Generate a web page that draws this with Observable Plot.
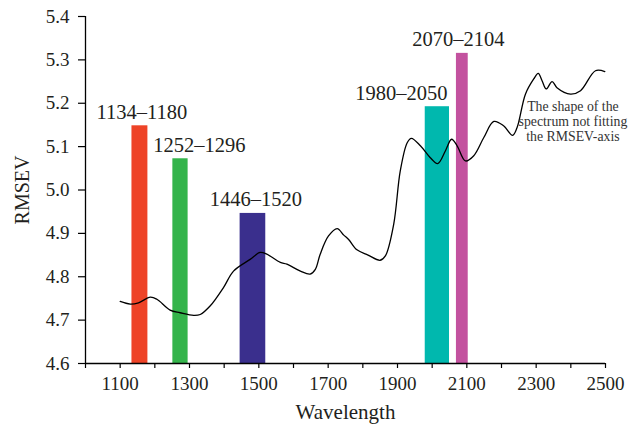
<!DOCTYPE html>
<html>
<head>
<meta charset="utf-8">
<script src="https://cdn.jsdelivr.net/npm/d3@7"></script>
<script src="https://cdn.jsdelivr.net/npm/@observablehq/plot@0.6"></script>
<style>
  html, body { margin: 0; padding: 0; background: #fff; }
  #chart svg { display: block; }
</style>
</head>
<body>
<div id="chart"></div>
<script>
// Spectrum curve (wavelength vs RMSEV)
const wavelength = [1100,1129,1153,1187,1206,1244,1273,1312,1331,1360,1398,1427,1475,1504,1523,1562,1581,1620,1648,1663,1677,1701,1726,1745,1759,1783,1815,1850,1865,1889,1908,1928,1940,1966,1994,2016,2038,2056,2072,2096,2120,2149,2178,2206,2232,2245,2269,2293,2306,2317,2329,2346,2360,2399,2428,2471,2498];
const rmsev = [4.743,4.737,4.740,4.753,4.748,4.723,4.717,4.711,4.713,4.733,4.775,4.813,4.840,4.856,4.852,4.833,4.829,4.813,4.806,4.817,4.852,4.894,4.911,4.896,4.886,4.862,4.850,4.838,4.848,4.921,5.044,5.109,5.119,5.102,5.075,5.061,5.090,5.117,5.102,5.067,5.079,5.121,5.158,5.148,5.126,5.144,5.221,5.256,5.269,5.252,5.233,5.250,5.236,5.221,5.229,5.275,5.273];

// Selected wavelength bands
const bandStart = [1134, 1252, 1446, 1980, 2070];
const bandEnd   = [1180, 1296, 1520, 2050, 2104];
const bandValue = [5.148, 5.072, 4.946, 5.192, 5.315];
const bandLabel = ["1134–1180", "1252–1296", "1446–1520", "1980–2050", "2070–2104"];
const bandColor = ["#ee4327", "#34b44b", "#3a2f8d", "#00b8ae", "#c3529f"];

// Axis ticks
const yTicks = [4.6, 4.7, 4.8, 4.9, 5.0, 5.1, 5.2, 5.3, 5.4];
const xTicks = [1000,1100,1200,1300,1400,1500,1600,1700,1800,1900,2000,2100,2200,2300,2400,2500];
const xTickLabels = [1100, 1300, 1500, 1700, 1900, 2100, 2300, 2500];

// Annotation
const noteText = ["The shape of the\nspectrum not fitting\nthe RMSEV-axis"];
const noteX = [2406];
const noteY = [5.112];

// ---- build tables ----
const spectrum = wavelength.map((w, i) => ({w, v: rmsev[i]}));
const bands = bandStart.map((s, i) => ({s, e: bandEnd[i], v: bandValue[i], label: bandLabel[i], color: bandColor[i]}));
const notes = noteText.map((t, i) => ({t, x: noteX[i], y: noteY[i]}));
const labelDx = [2, 19, 3, -36, -4];
const yMin = yTicks[0];
const serif = "'Liberation Serif', 'DejaVu Serif', serif";
const ink = "#231f20";

const labelMarks = bands.map((b, i) => Plot.text([b], {
  x: d => (d.s + d.e) / 2, y: "v", text: "label",
  dx: labelDx[i], dy: -7, lineAnchor: "bottom",
  fontSize: 20.5, fill: ink
}));

const chart = Plot.plot({
  width: 629,
  height: 432,
  marginLeft: 85,
  marginRight: 24,
  marginTop: 16,
  marginBottom: 69,
  style: {fontFamily: serif, fontSize: "19px", color: ink, background: "#fff"},
  x: {domain: [1000, 2500]},
  y: {domain: [4.6, 5.4]},
  marks: [
    Plot.rect(bands, {x1: "s", x2: "e", y1: () => yMin, y2: "v", fill: "color"}),
    Plot.line(spectrum, {x: "w", y: "v", curve: "catmull-rom", stroke: "#000", strokeWidth: 1.3}),
    ...labelMarks,
    Plot.text(notes, {x: "x", y: "y", text: "t", lineAnchor: "bottom", lineHeight: 1.12, fontSize: 13.8, fill: "#333"}),
    Plot.ruleX([1000], {stroke: "#000", strokeWidth: 1.3}),
    Plot.ruleY([4.6], {stroke: "#000", strokeWidth: 1.3}),
    Plot.axisY({ticks: yTicks, tickFormat: d3.format(".1f"), tickSize: 7, tickPadding: 9, label: null, stroke: "#000", strokeWidth: 1.2, fontSize: 19, fill: ink}),
    Plot.axisX({ticks: xTicks, tickFormat: d => xTickLabels.includes(d) ? String(d) : "", tickSize: 5, tickPadding: 8, label: null, stroke: "#000", strokeWidth: 1.2, fontSize: 19, fill: ink}),
    Plot.text(["RMSEV"], {frameAnchor: "left", textAnchor: "middle", text: d => d, rotate: -90, dx: -63, fontSize: 20, fill: ink}),
    Plot.text(["Wavelength"], {frameAnchor: "bottom", text: d => d, dy: 55, lineAnchor: "bottom", fontSize: 21, fill: ink})
  ]
});
document.getElementById("chart").appendChild(chart);
</script>
</body>
</html>
